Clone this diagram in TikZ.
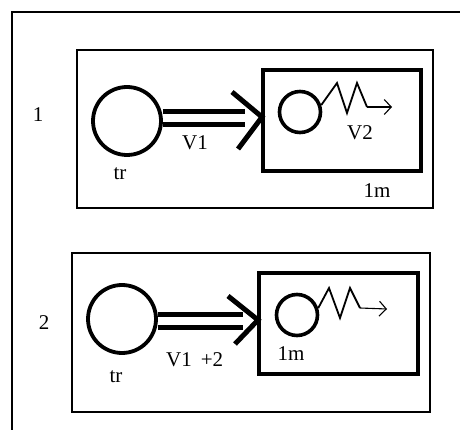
\documentclass[tikz,border=0pt]{standalone}
\usepackage{fontspec}
\setmainfont{Liberation Serif}
\usetikzlibrary{arrows.meta,calc}
\tikzset{
  frameline/.style={line width=1.2pt},
  panel/.style={draw, line width=1.4pt, inner sep=0pt},
  bigwheel/.style={draw, circle, line width=3.8pt, minimum size=68pt, inner sep=0pt},
  smallwheel/.style={draw, circle, line width=3.6pt, minimum size=41pt, inner sep=0pt},
  roombox/.style={draw, line width=4.4pt, inner sep=0pt},
  shaft/.style={double, double distance=8.5pt, line width=4.6pt},
  chevron/.style={line width=5pt},
  spring/.style={line width=1.8pt, line join=miter},
  pointer/.style={line width=1.1pt, -{Straight Barb[length=7pt,width=15pt,line width=1.1pt]}},
  lbl/.style={inner sep=0pt, font=\fontsize{21}{24}\selectfont}
}
\begin{document}
\begin{tikzpicture}[x=1pt,y=-1pt]
\useasboundingbox (0,0) rectangle (460,430);

% page frame: top and left rules only
\coordinate (fa) at (460,12);
\coordinate (fb) at (12,12);
\coordinate (fc) at (12,430);
\draw[frameline] (fa) -- (fb) -- (fc);

% ---------- stage 1 ----------
\node[panel, minimum width=356pt, minimum height=158pt] (p1) at (255,129) {};
\node[lbl] (n1) at (38,115) {1};
\node[bigwheel] (tr1) at (127,121) {};
\node[lbl] (trl1) at (120,174) {tr};
\node[roombox, minimum width=158pt, minimum height=101pt] (m1) at (342,120.5) {};
\coordinate (sh1) at (245,118);
\draw[shaft] (tr1.east |- sh1) -- (sh1);
\coordinate (ap1) at (262,117);
\coordinate (ua1) at (232,92);
\coordinate (la1) at (238,149);
\draw[chevron] (ua1) -- (ap1) -- (la1);
\node[lbl] (v1a) at (195,143) {V1};
\node[smallwheel] (s1) at (300,112) {};
\coordinate (z1a) at (337,83);
\coordinate (z1b) at (347,113);
\coordinate (z1c) at (357,83);
\coordinate (z1d) at (367,107);
\draw[spring] (s1.18) -- (z1a) -- (z1b) -- (z1c) -- (z1d);
\coordinate (q1) at (392,107);
\draw[pointer] (z1d) -- (q1);
\node[lbl] (v2) at (360,133) {V2};
\node[lbl] (lm1) at (377,191) {1m};

% ---------- stage 2 ----------
\node[panel, minimum width=358pt, minimum height=159pt] (p2) at (251,332.5) {};
\node[lbl] (n2) at (44,323) {2};
\node[bigwheel] (tr2) at (122,319) {};
\node[lbl] (trl2) at (116,377) {tr};
\node[roombox, minimum width=159pt, minimum height=101pt] (m2) at (338.5,323.5) {};
\coordinate (sh2) at (243,321);
\draw[shaft] (tr2.east |- sh2) -- (sh2);
\coordinate (ap2) at (258,320);
\coordinate (ua2) at (228,296);
\coordinate (la2) at (235,344);
\draw[chevron] (ua2) -- (ap2) -- (la2);
\node[lbl] (v1b) at (179,360) {V1};
\node[lbl] (plus) at (212,360) {+2};
\node[smallwheel] (s2) at (297,315) {};
\coordinate (z2a) at (329,288);
\coordinate (z2b) at (340,318);
\coordinate (z2c) at (350,288);
\coordinate (z2d) at (360,308);
\draw[spring] (s2.18) -- (z2a) -- (z2b) -- (z2c) -- (z2d);
\coordinate (q2) at (387,309);
\draw[pointer] (z2d) -- (q2);
\node[lbl] (lm2) at (291,354) {1m};
\end{tikzpicture}
\end{document}
